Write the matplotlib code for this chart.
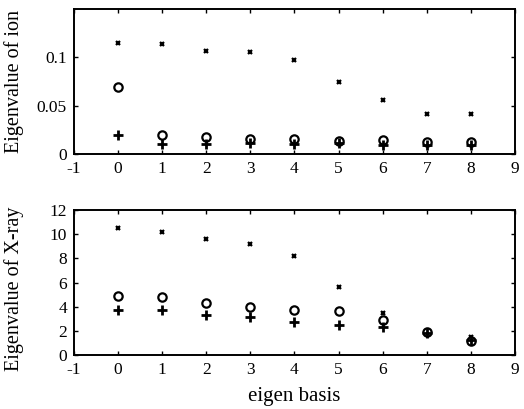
import matplotlib
matplotlib.use("Agg")
import matplotlib.pyplot as plt

plt.rcParams["font.family"] = ["Liberation Serif", "DejaVu Serif"]
plt.rcParams["axes.unicode_minus"] = False

basis = [0, 1, 2, 3, 4, 5, 6, 7, 8]

# ion eigenvalues for the three cases
ion_x = [0.115, 0.114, 0.1065, 0.106, 0.097, 0.0745, 0.056, 0.042, 0.0415]
ion_o = [0.0694, 0.0196, 0.0175, 0.016, 0.016, 0.0134, 0.0144, 0.0127, 0.0124]
ion_p = [0.0203, 0.011, 0.011, 0.0115, 0.011, 0.012, 0.010, 0.009, 0.010]

# X-ray eigenvalues for the three cases
xr_x = [10.47, 10.2, 9.58, 9.22, 8.17, 5.64, 3.47, 1.8, 1.5]
xr_o = [4.92, 4.85, 4.3, 3.97, 3.75, 3.7, 2.95, 1.92, 1.22]
xr_p = [3.72, 3.72, 3.3, 3.2, 2.75, 2.5, 2.36, 1.85, 1.3]

fig = plt.figure(figsize=(5.24, 4.09), dpi=100)
ax1 = fig.add_axes([0.141, 0.623, 0.842, 0.355])
ax2 = fig.add_axes([0.141, 0.131, 0.842, 0.356])


def draw(ax, xs, os_, ps):
    ax.plot(basis, xs, linestyle="none", marker="x", ms=3.5, mew=1.6, color="black")
    ax.plot(basis, os_, linestyle="none", marker="o", ms=6, mfc="white", mec="black", mew=1.6)
    ax.plot(basis, ps, linestyle="none", marker="+", ms=7, mew=2.0, color="black")
    ax.set_xlim(-1, 9)
    ax.set_xticks(range(-1, 10))
    ax.tick_params(direction="in", top=True, right=True, length=3, width=1,
                   labelsize=12.5, pad=5)
    for s in ax.spines.values():
        s.set_linewidth(1.4)


draw(ax1, ion_x, ion_o, ion_p)
ax1.set_ylim(0, 0.15)
ax1.set_yticks([0, 0.05, 0.1])
ax1.set_yticklabels(["0", "0.05", "0.1"])
ax1.set_ylabel("Eigenvalue of ion", fontsize=14.5)
ax1.yaxis.set_label_coords(-0.112, 0.5)

draw(ax2, xr_x, xr_o, xr_p)
ax2.set_ylim(0, 12)
ax2.set_yticks([0, 2, 4, 6, 8, 10, 12])
ax2.set_ylabel("Eigenvalue of X-ray", fontsize=14.5)
ax2.yaxis.set_label_coords(-0.112, 0.46)
ax2.set_xlabel("eigen basis", fontsize=15, labelpad=6)

fig.savefig("out.png", dpi=100)
